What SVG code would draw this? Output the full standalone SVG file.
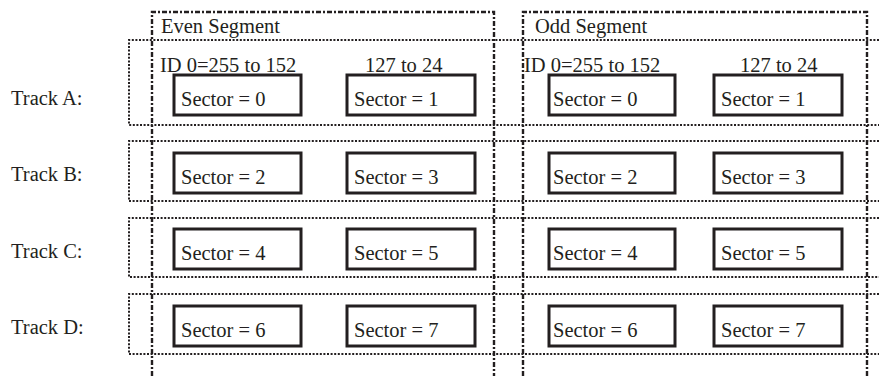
<svg xmlns="http://www.w3.org/2000/svg" width="879" height="376" viewBox="0 0 879 376">
<style>
text{font-family:"Liberation Serif","Times New Roman",serif;font-size:20.5px;fill:#231f20}
.track{fill:none;stroke:#231f20;stroke-width:2;stroke-dasharray:2 1.6}
.seg{fill:none;stroke:#231f20;stroke-width:2.4;stroke-dasharray:5 2 2 2}
.sec{fill:none;stroke:#231f20;stroke-width:3}
</style>
<rect width="879" height="376" fill="#fff"/>
<g id="tracks">
<g id="trackA"><path class="track" d="M879 40H129V125H879"/><text x="11" y="105">Track A:</text></g>
<g id="trackB"><path class="track" d="M879 141H129V201H879"/><text x="11" y="181">Track B:</text></g>
<g id="trackC"><path class="track" d="M879 218H129V277H879"/><text x="11" y="258">Track C:</text></g>
<g id="trackD"><path class="track" d="M879 294H129V354H879"/><text x="11" y="334">Track D:</text></g>
</g>
<g id="evenSegment">
<path class="seg" d="M152 376V12H494V376"/>
<text x="161" y="33">Even Segment</text>
<text x="160" y="72">ID 0=255 to 152</text>
<text x="365" y="72">127 to 24</text>
</g>
<g id="oddSegment">
<path class="seg" d="M523 376V12H867V376"/>
<text x="535" y="33">Odd Segment</text>
<text x="524" y="72">ID 0=255 to 152</text>
<text x="740" y="72">127 to 24</text>
</g>
<g id="even-s0"><rect class="sec" x="174" y="75" width="127" height="40"/><text x="181" y="106">Sector = 0</text></g>
<g id="even-s1"><rect class="sec" x="347" y="75" width="128" height="40"/><text x="354" y="106">Sector = 1</text></g>
<g id="even-s2"><rect class="sec" x="174" y="153" width="127" height="40"/><text x="181" y="184">Sector = 2</text></g>
<g id="even-s3"><rect class="sec" x="347" y="153" width="128" height="40"/><text x="354" y="184">Sector = 3</text></g>
<g id="even-s4"><rect class="sec" x="174" y="229" width="127" height="40"/><text x="181" y="260">Sector = 4</text></g>
<g id="even-s5"><rect class="sec" x="347" y="229" width="128" height="40"/><text x="354" y="260">Sector = 5</text></g>
<g id="even-s6"><rect class="sec" x="174" y="306" width="127" height="40"/><text x="181" y="337">Sector = 6</text></g>
<g id="even-s7"><rect class="sec" x="347" y="306" width="128" height="40"/><text x="354" y="337">Sector = 7</text></g>
<g id="odd-s0"><rect class="sec" x="549" y="75" width="126" height="40"/><text x="553" y="106">Sector = 0</text></g>
<g id="odd-s1"><rect class="sec" x="714" y="75" width="128" height="40"/><text x="721" y="106">Sector = 1</text></g>
<g id="odd-s2"><rect class="sec" x="549" y="153" width="126" height="40"/><text x="553" y="184">Sector = 2</text></g>
<g id="odd-s3"><rect class="sec" x="714" y="153" width="128" height="40"/><text x="721" y="184">Sector = 3</text></g>
<g id="odd-s4"><rect class="sec" x="549" y="229" width="126" height="40"/><text x="553" y="260">Sector = 4</text></g>
<g id="odd-s5"><rect class="sec" x="714" y="229" width="128" height="40"/><text x="721" y="260">Sector = 5</text></g>
<g id="odd-s6"><rect class="sec" x="549" y="306" width="126" height="40"/><text x="553" y="337">Sector = 6</text></g>
<g id="odd-s7"><rect class="sec" x="714" y="306" width="128" height="40"/><text x="721" y="337">Sector = 7</text></g>
</svg>
